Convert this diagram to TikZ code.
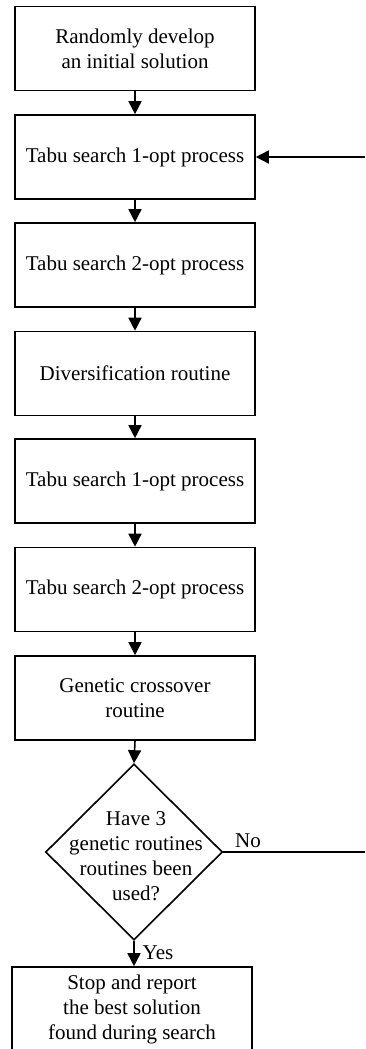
\documentclass[tikz,border=0pt]{standalone}
\usepackage{fontspec}
\setmainfont{Liberation Serif}
\usepackage{tikz}
\usetikzlibrary{arrows.meta,positioning,shapes.geometric}

\begin{document}
\begin{tikzpicture}[
  x=1pt,y=-1pt,
  every node/.style={font=\fontsize{21}{25}\selectfont},
  procbox/.style={draw,line width=1.6pt,minimum width=240pt,
    minimum height=84pt,inner sep=0pt,align=center},
  decision/.style={draw,diamond,line width=1.6pt,minimum width=177pt,
    minimum height=176pt,inner sep=0pt},
  a/.style={-{Triangle[length=13pt,width=13pt]},line width=1.6pt}
]
  \clip (0,0) rectangle (365,1049);
  \node[procbox] (init) at (135,48.5) {Randomly develop\\an initial solution};
  \node[procbox] (tabuA) at (135,157) {Tabu search 1-opt process};
  \node[procbox] (tabuB) at (135,265) {Tabu search 2-opt process};
  \node[procbox] (divers) at (135,373.5) {Diversification routine};
  \node[procbox] (tabuC) at (135,481) {Tabu search 1-opt process};
  \node[procbox] (tabuD) at (135,589.5) {Tabu search 2-opt process};
  \node[procbox] (cross) at (135,698) {Genetic crossover\\routine};

  \node[decision] (check) at (134,852) {};
  \node[align=center] (checktxt) at (136,856)
    {Have 3\\genetic routines\\routines been\\used?};
  \node[procbox] (stop) at (132,1009) {Stop and report\\the best solution\\found during search};

  \coordinate (backin) at (365,157);
  \coordinate (backout) at (365,852);

  \foreach \a/\b in {init/tabuA,tabuA/tabuB,tabuB/divers,divers/tabuC,tabuC/tabuD,tabuD/cross}
    {\draw[a] (\a) -- (\b);}
  \draw[a] (cross.south) -- (check.north);
  \draw[a] (check.south) -- (check.south |- stop.north);
  \draw[line width=1.6pt] (check.east) -- (backout);
  \draw[a] (backin) -- (tabuA.east);
  \node (no) at (248,841) {No};
  \node (yes) at (158,953) {Yes};
\end{tikzpicture}
\end{document}
